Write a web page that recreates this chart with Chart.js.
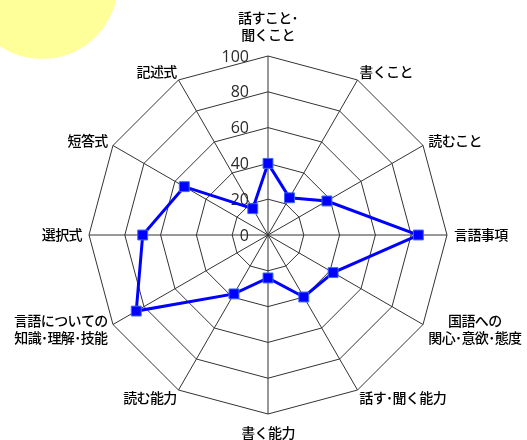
<!DOCTYPE html>
<html><head><meta charset="utf-8">
<script src="https://cdn.jsdelivr.net/npm/chart.js@4/dist/chart.umd.min.js"></script>
<style>html,body{margin:0;padding:0;background:#fff}canvas{display:block}</style>
</head><body>
<canvas id="c" width="527" height="440"></canvas>
<script>
const categories = [['話すこと･','聞くこと'],'書くこと','読むこと','言語事項',['国語への','関心･意欲･態度'],'話す･聞く能力','書く能力','読む能力',['言語についての','知識･理解･技能'],'選択式','短答式','記述式'];
const scores = [40,24,38,84,42,40,24,38,85,70,54,17];
const tickValues = [0,20,40,60,80,100];

const decoPlugin = {
  id:'deco',
  beforeDraw(chart){
    const ctx = chart.ctx;
    ctx.save();
    ctx.fillStyle = '#FFFF99';
    ctx.beginPath(); ctx.arc(42,-17,76,0,Math.PI*2); ctx.fill();
    ctx.restore();
  }
};
const tickLabelPlugin = {
  id:'tickLabels',
  beforeDatasetsDraw(chart){
    const s = chart.scales.r, ctx = chart.ctx;
    ctx.save();
    ctx.font = '16px "Open Sans"';
    ctx.fillStyle = '#2a2a2a';
    ctx.textAlign = 'right'; ctx.textBaseline = 'middle';
    tickValues.forEach(v => {
      const y = s.yCenter - s.getDistanceFromCenterForValue(v);
      ctx.fillText(String(v), s.xCenter - 19, y + 1);
    });
    ctx.restore();
  }
};
const pointLabelPlugin = {
  id:'pointLabelsCustom',
  afterDraw(chart){
    const s = chart.scales.r, ctx = chart.ctx;
    ctx.save();
    ctx.font = '500 14px "Noto Sans CJK JP"';
    ctx.letterSpacing = '-0.6px';
    ctx.fillStyle = '#000';
    ctx.textAlign = 'center'; ctx.textBaseline = 'middle';
    const lh = 17.5;
    chart.data.labels.forEach((lab, i) => {
      const lines = Array.isArray(lab) ? lab : [lab];
      const a = s.getIndexAngle(i);
      const v = s.getPointPosition(i, s.drawingArea);
      const sn = Math.sin(a), cs = Math.cos(a);
      const bw = Math.max(...lines.map(t => ctx.measureText(t).width));
      const bh = lines.length * lh;
      let cx, cy;
      if (Math.abs(sn) < 0.01) {
        cx = v.x;
        cy = cs > 0 ? v.y - 12.5 - bh/2 : v.y + 9.5 + bh/2;
      } else {
        const dx = 7*sn*sn;
        cx = sn > 0 ? v.x + dx + bw/2 : v.x - dx - bw/2;
        cy = v.y - cs*9;
      }
      lines.forEach((t,k) => ctx.fillText(t, cx, cy - bh/2 + lh*(k+0.5)));
    });
    ctx.restore();
  }
};

new Chart(document.getElementById('c'), {
  type:'radar',
  data:{labels:categories, datasets:[{
    data:scores, borderColor:'#0000ff', borderWidth:3, backgroundColor:'transparent', fill:false,
    pointStyle:'rect', pointRadius:7, pointHoverRadius:7, pointBackgroundColor:'#0000ff',
    pointBorderColor:'#3a66ff', pointBorderWidth:1, tension:0
  }]},
  options:{
    responsive:false, animation:false, devicePixelRatio:1,
    layout:{padding:{left:89,right:80,top:56,bottom:26}},
    plugins:{legend:{display:false}, tooltip:{enabled:false}},
    scales:{r:{
      min:0, max:100,
      ticks:{stepSize:20, display:false},
      grid:{color:'#333', lineWidth:1},
      angleLines:{color:'#333', lineWidth:1},
      pointLabels:{display:false}
    }}
  },
  plugins:[decoPlugin, tickLabelPlugin, pointLabelPlugin]
});
</script>
</body></html>
